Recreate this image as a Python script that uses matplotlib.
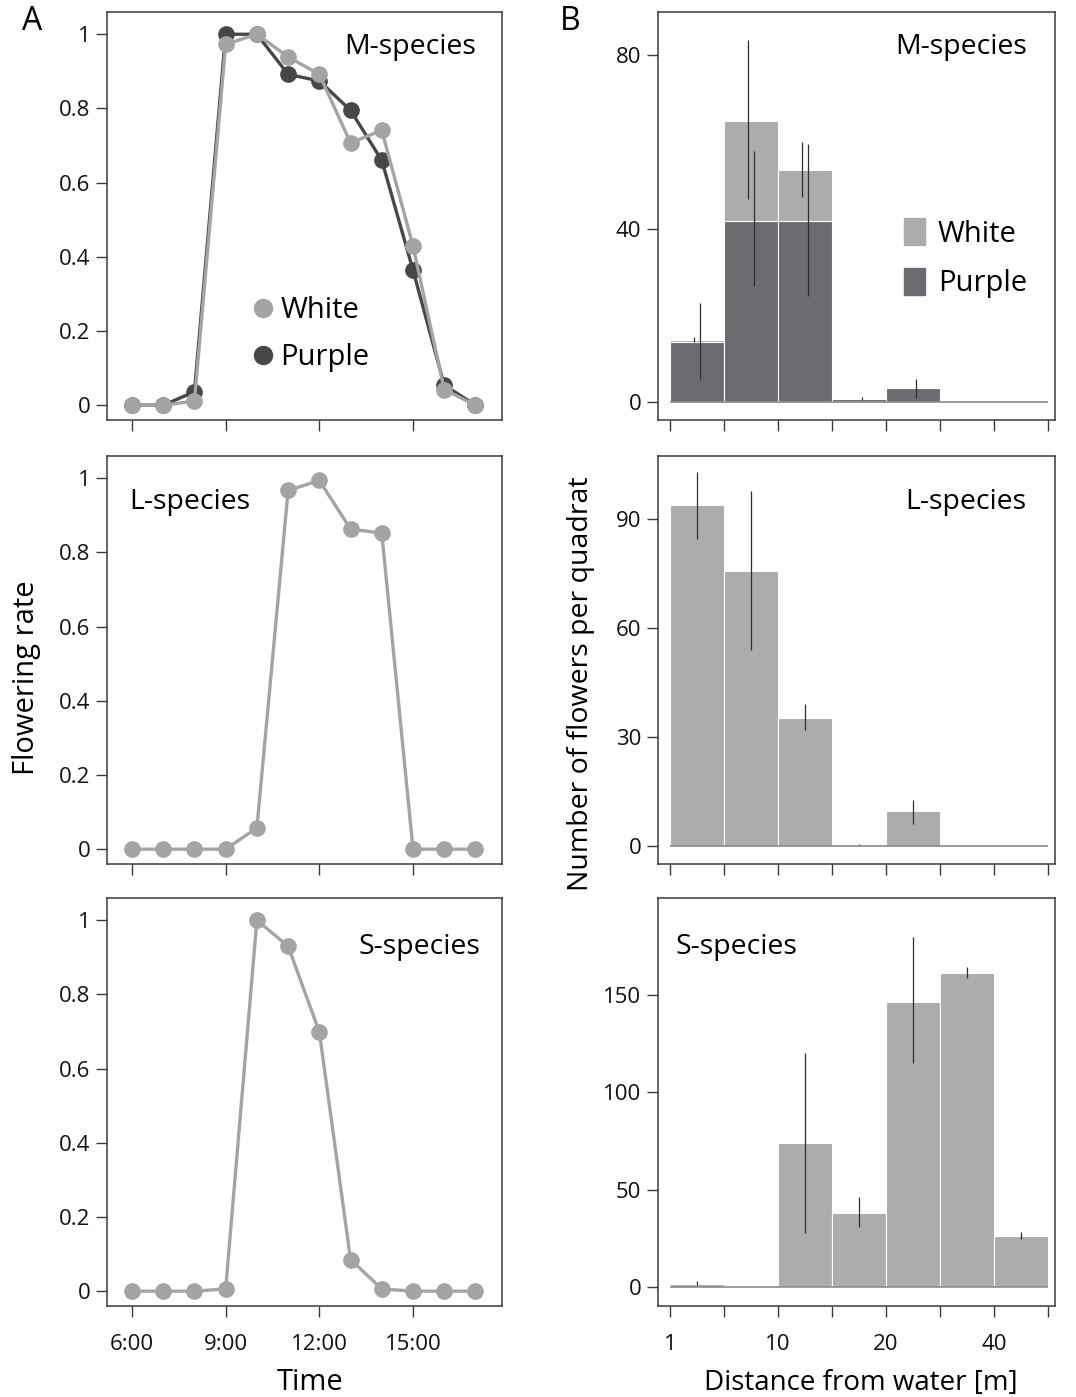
import matplotlib
matplotlib.use("Agg")
import matplotlib.pyplot as plt
from matplotlib.lines import Line2D
from matplotlib.patches import Patch
import numpy as np

plt.rcParams['font.family'] = ['Open Sans', 'DejaVu Sans']

# ---- data: flowering rate by hour (panel A)
hours = [6, 7, 8, 9, 10, 11, 12, 13, 14, 15, 16, 17]
m_white = [0, 0, 0.011, 0.973, 1.0, 0.939, 0.892, 0.707, 0.741, 0.429, 0.042, 0]
m_purple = [0, 0, 0.036, 1.0, 1.0, 0.892, 0.874, 0.795, 0.660, 0.364, 0.054, 0]
l_white = [0, 0, 0, 0, 0.057, 0.967, 0.994, 0.863, 0.852, 0, 0, 0]
s_white = [0, 0, 0, 0.006, 1.0, 0.93, 0.699, 0.085, 0.006, 0, 0, 0]
time_ticks = [6, 9, 12, 15]
time_labels = ["6:00", "9:00", "12:00", "15:00"]

# ---- data: flowers per quadrat by distance class (panel B)
n_bins = 7
dist_ticks = [0, 2, 4, 6]
dist_labels = ["1", "10", "20", "40"]

mb_white = [14.3, 64.8, 53.6, 0, 0, 0, 0]
mb_white_lo = [14.0, 46.8, 47.3, 0, 0, 0, 0]
mb_white_hi = [15.0, 83.5, 60.1, 0, 0, 0, 0]
mb_purple = [14.0, 41.9, 41.9, 0.8, 3.2, 0, 0]
mb_purple_lo = [5.3, 26.7, 24.6, 0.6, 0.9, 0, 0]
mb_purple_hi = [22.8, 58.0, 59.6, 1.2, 5.3, 0, 0]

lb = [93.6, 75.5, 35.3, 0.3, 9.6, 0, 0]
lb_lo = [84.3, 54.0, 31.9, 0.2, 6.0, 0, 0]
lb_hi = [102.8, 97.6, 39.0, 0.7, 12.8, 0, 0]

sb = [1.7, 0, 73.9, 37.8, 146.4, 161.2, 26.1]
sb_lo = [1.2, 0, 27.8, 30.9, 115.1, 158.6, 24.4]
sb_hi = [2.8, 0, 120.0, 46.1, 179.6, 164.6, 28.4]

# ---- styles
c_white_line = '#a3a4a6'
c_purple_line = '#47474a'
c_white_bar = '#abacae'
c_purple_bar = '#6b6c6f'
c_err = '#2e2e2e'
c_spine = '#3a3a3a'

W, H = 1076, 1397
fig = plt.figure(figsize=(W / 100, H / 100), dpi=100)


def rect(x0, y0, x1, y1):
    return [x0 / W, 1 - y1 / H, (x1 - x0) / W, (y1 - y0) / H]


rows = [(12, 420), (456, 864), (898, 1306)]
left_axes = [fig.add_axes(rect(107, r[0], 502, r[1])) for r in rows]
right_axes = [fig.add_axes(rect(658, r[0], 1055, r[1])) for r in rows]


def style(ax):
    for s in ax.spines.values():
        s.set_color(c_spine)
        s.set_linewidth(1.1)
    ax.tick_params(direction='out', length=8, width=1.0, color=c_spine,
                   labelsize=16, labelcolor='#111111')
    ax.tick_params(axis='y', pad=4)
    ax.tick_params(axis='x', pad=12)


def line(ax, y, color, z=2):
    ax.plot(hours, y, color=color, lw=2.4, marker='o', ms=11, mec=color,
            mfc=color, zorder=z)


# ---- panel A
for i, ax in enumerate(left_axes):
    style(ax)
    ax.set_xlim(5.2, 17.85)
    ax.set_ylim(-0.04, 1.06)
    ax.set_xticks(time_ticks)
    ax.set_yticks([0, 0.2, 0.4, 0.6, 0.8, 1.0])
    ax.set_yticklabels(["0", "0.2", "0.4", "0.6", "0.8", "1"])
    if i < 2:
        ax.set_xticklabels([])
    else:
        ax.set_xticklabels(time_labels)

ax = left_axes[0]
line(ax, m_purple, c_purple_line, 2)
line(ax, m_white, c_white_line, 3)
ax.text(0.934, 0.914, "M-species", transform=ax.transAxes, ha='right',
        va='center', fontsize=20.5)
handles = [Line2D([], [], marker='o', ls='none', ms=13, color=c_white_line),
           Line2D([], [], marker='o', ls='none', ms=13, color=c_purple_line)]
ax.legend(handles, ["White", "Purple"], loc='center left',
          bbox_to_anchor=((254 - 107) / 395, (420 - 334) / 408),
          frameon=False, fontsize=21, handlelength=0.6, handletextpad=0.3,
          labelspacing=0.6, borderpad=0, borderaxespad=0)

ax = left_axes[1]
line(ax, l_white, c_white_line)
ax.text(0.056, 0.887, "L-species", transform=ax.transAxes, ha='left',
        va='center', fontsize=20.5)

ax = left_axes[2]
line(ax, s_white, c_white_line)
ax.text(0.944, 0.88, "S-species", transform=ax.transAxes, ha='right',
        va='center', fontsize=20.5)

# ---- panel B
centers = np.arange(n_bins) + 0.5


def errs(ax, xs, lo, hi):
    for x, a, b in zip(xs, lo, hi):
        if b > a:
            ax.vlines(x, a, b, color=c_err, lw=0.9, zorder=5)


for i, ax in enumerate(right_axes):
    style(ax)
    ax.set_xlim(-0.22, 7.13)
    ax.set_xticks(np.arange(n_bins + 1))
    if i < 2:
        ax.set_xticklabels([])
    else:
        ax.set_xticklabels([dist_labels[dist_ticks.index(t)] if t in dist_ticks
                            else "" for t in range(n_bins + 1)])

ax = right_axes[0]
ax.set_ylim(-4.1, 90)
ax.set_yticks([0, 40, 80])
ax.bar(centers, mb_white, width=1, color=c_white_bar, edgecolor='white',
       lw=0.8, zorder=2)
ax.bar(centers, mb_purple, width=1, color=c_purple_bar, edgecolor='white',
       lw=0.8, zorder=3)
errs(ax, centers - 0.05, mb_white_lo, mb_white_hi)
errs(ax, centers + 0.05, mb_purple_lo, mb_purple_hi)
ax.hlines(0, 0, n_bins, color='#8c8c8c', lw=1.2, zorder=4)
ax.text(0.929, 0.914, "M-species", transform=ax.transAxes, ha='right',
        va='center', fontsize=20.5)
ax.legend([Patch(color=c_white_bar), Patch(color=c_purple_bar)],
          ["White", "Purple"], loc='center left',
          bbox_to_anchor=(0.62, 0.397), frameon=False, fontsize=21,
          handlelength=0.7, handleheight=1.05, handletextpad=0.45,
          labelspacing=0.65, borderpad=0, borderaxespad=0)

ax = right_axes[1]
ax.set_ylim(-4.9, 107.2)
ax.set_yticks([0, 30, 60, 90])
ax.bar(centers, lb, width=1, color=c_white_bar, edgecolor='white', lw=0.8,
       zorder=2)
errs(ax, centers, lb_lo, lb_hi)
ax.hlines(0, 0, n_bins, color='#8c8c8c', lw=1.2, zorder=4)
ax.text(0.927, 0.887, "L-species", transform=ax.transAxes, ha='right',
        va='center', fontsize=20.5)

ax = right_axes[2]
ax.set_ylim(-9.8, 199.8)
ax.set_yticks([0, 50, 100, 150])
ax.bar(centers, sb, width=1, color=c_white_bar, edgecolor='white', lw=0.8,
       zorder=2)
errs(ax, centers, sb_lo, sb_hi)
ax.hlines(0, 0, n_bins, color='#8c8c8c', lw=1.2, zorder=4)
ax.text(0.045, 0.88, "S-species", transform=ax.transAxes, ha='left',
        va='center', fontsize=20.5)

# ---- labels
fig.text(27 / W, 1 - 678 / H, "Flowering rate", rotation=90, ha='center',
         va='center', fontsize=21)
fig.text(581 / W, 1 - 684 / H, "Number of flowers per quadrat", rotation=90,
         ha='center', va='center', fontsize=20.5)
fig.text(310 / W, 1 - 1383 / H, "Time", ha='center', va='center', fontsize=21)
fig.text(861 / W, 1 - 1383 / H, "Distance from water [m]", ha='center',
         va='center', fontsize=20)
fig.text(32 / W, 1 - 22 / H, "A", ha='center', va='center', fontsize=23)
fig.text(570 / W, 1 - 22 / H, "B", ha='center', va='center', fontsize=23)

fig.savefig("out.png", dpi=100)
